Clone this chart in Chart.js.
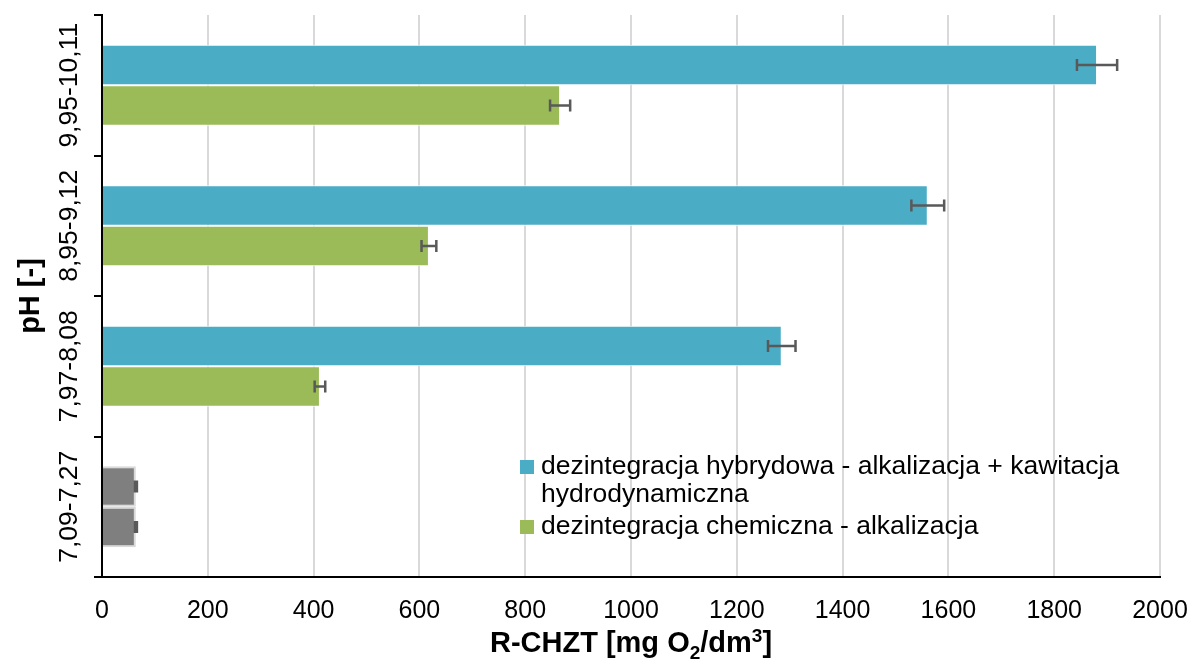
<!DOCTYPE html>
<html>
<head>
<meta charset="utf-8">
<script src="https://cdn.jsdelivr.net/npm/chart.js@4/dist/chart.umd.min.js"></script>
<style>
html,body{margin:0;padding:0;background:#fff;}
#wrap{width:1195px;height:666px;position:relative;}
</style>
</head>
<body>
<div id="wrap"><canvas id="c"></canvas></div>
<script>
// ---- data ----
const categories = ['9,95-10,11', '8,95-9,12', '7,97-8,08', '7,09-7,27'];
const seriesNames = ['dezintegracja hybrydowa - alkalizacja + kawitacja hydrodynamiczna', 'dezintegracja chemiczna - alkalizacja'];
const hybridValues = [1881, 1561, 1285, 64];
const hybridErrors = [38, 31, 26, 2];
const chemicalValues = [866, 618, 412, 64];
const chemicalErrors = [19, 14, 10, 2];
const xTicks = [0, 200, 400, 600, 800, 1000, 1200, 1400, 1600, 1800, 2000];
const xTitleParts = [['R-CHZT [mg O', 0], ['2', -1], ['/dm', 0], ['3', 1], [']', 0]];
const yTitle = 'pH [-]';

// ---- styles ----
const BLUE = '#4bacc6', GREEN = '#9bbb59', GRAY = '#7f7f7f';
const FONT = '"Liberation Sans", Arial, sans-serif';

const errorBarPlugin = {
  id: 'errorBars',
  afterDatasetsDraw(chart) {
    const ctx = chart.ctx, xs = chart.scales.x;
    chart.data.datasets.forEach((ds, di) => {
      const meta = chart.getDatasetMeta(di);
      meta.data.forEach((bar, i) => {
        const v = ds.data[i], e = ds.errors[i];
        const x1 = xs.getPixelForValue(v - e), x2 = xs.getPixelForValue(v + e);
        const y = bar.y;
        ctx.save();
        ctx.strokeStyle = '#595959';
        ctx.lineWidth = 2.5;
        ctx.beginPath();
        ctx.moveTo(x1, y); ctx.lineTo(x2, y);
        ctx.moveTo(x1, y - 6); ctx.lineTo(x1, y + 6);
        ctx.moveTo(x2, y - 6); ctx.lineTo(x2, y + 6);
        ctx.stroke();
        ctx.restore();
      });
    });
  }
};

const customTextPlugin = {
  id: 'customText',
  afterDraw(chart) {
    const ctx = chart.ctx, ys = chart.scales.y, area = chart.chartArea;
    ctx.save();
    // y category labels (rotated)
    ctx.fillStyle = '#000';
    ctx.font = '26.5px ' + FONT;
    ctx.textAlign = 'center';
    ctx.textBaseline = 'middle';
    categories.forEach((c, i) => {
      const y = ys.getPixelForValue(i);
      ctx.save();
      ctx.translate(70, y);
      ctx.rotate(-Math.PI / 2);
      ctx.fillText(c, 0, 0);
      ctx.restore();
    });
    // y title
    ctx.font = 'bold 29px ' + FONT;
    ctx.save();
    ctx.translate(31, (area.top + area.bottom) / 2);
    ctx.rotate(-Math.PI / 2);
    ctx.fillText(yTitle, 0, 0);
    ctx.restore();
    // x title with sub/superscript
    const big = 'bold 29px ' + FONT, small = 'bold 19px ' + FONT;
    let total = 0;
    xTitleParts.forEach(p => { ctx.font = p[1] ? small : big; total += ctx.measureText(p[0]).width; });
    let x = (area.left + area.right) / 2 - total / 2;
    const yb = 652;
    ctx.textAlign = 'left';
    ctx.textBaseline = 'alphabetic';
    xTitleParts.forEach(p => {
      ctx.font = p[1] ? small : big;
      const dy = p[1] === -1 ? 7 : (p[1] === 1 ? -10 : 0);
      ctx.fillText(p[0], x, yb + dy);
      x += ctx.measureText(p[0]).width;
    });
    // legend
    ctx.font = '26.5px ' + FONT;
    ctx.textBaseline = 'middle';
    const colors = [BLUE, GREEN];
    const lx = 520, tx = 541, maxW = 610;
    let ly = 467;
    seriesNames.forEach((name, k) => {
      const words = name.split(' ');
      const lines = [];
      let cur = '';
      words.forEach(w => {
        const t = cur ? cur + ' ' + w : w;
        if (ctx.measureText(t).width > maxW && cur) { lines.push(cur); cur = w; } else cur = t;
      });
      lines.push(cur);
      ctx.fillStyle = colors[k];
      ctx.fillRect(lx, ly - 7, 14, 14);
      ctx.fillStyle = '#000';
      lines.forEach((ln) => {
        ctx.fillText(ln, tx, ly);
        ly += 28;
      });
      ly += 4;
    });
    ctx.restore();
  }
};

const ctx = document.getElementById('c');
new Chart(ctx, {
  type: 'bar',
  data: {
    labels: categories,
    datasets: [
      {
        label: seriesNames[0],
        data: hybridValues,
        errors: hybridErrors,
        backgroundColor: [BLUE, BLUE, BLUE, GRAY],
        borderColor: ['#ffffff', '#ffffff', '#ffffff', '#d9d9d9'],
        borderWidth: [1, 1, 1, 2],
        borderSkipped: 'start',
        categoryPercentage: 0.575,
        barPercentage: 1.0
      },
      {
        label: seriesNames[1],
        data: chemicalValues,
        errors: chemicalErrors,
        backgroundColor: [GREEN, GREEN, GREEN, GRAY],
        borderColor: ['#ffffff', '#ffffff', '#ffffff', '#d9d9d9'],
        borderWidth: [1, 1, 1, 2],
        borderSkipped: 'start',
        categoryPercentage: 0.575,
        barPercentage: 1.0
      }
    ]
  },
  options: {
    indexAxis: 'y',
    responsive: true,
    maintainAspectRatio: false,
    animation: false,
    layout: { padding: { top: 15, right: 35, left: 0, bottom: 0 } },
    plugins: { legend: { display: false }, tooltip: { enabled: false } },
    scales: {
      x: {
        type: 'linear',
        min: xTicks[0],
        max: xTicks[xTicks.length - 1],
        afterBuildTicks(s) { s.ticks = xTicks.map(v => ({ value: v })); },
        afterFit(s) { s.height = 89; s.paddingLeft = 0; s.paddingRight = 0; },
        grid: { color: '#d9d9d9', lineWidth: 2, drawTicks: false },
        border: { display: true, color: '#000', width: 2 },
        ticks: { color: '#000', font: { family: FONT, size: 25 }, padding: 19, callback: v => String(v) }
      },
      y: {
        type: 'category',
        offset: true,
        afterFit(s) { s.width = 102; s.paddingTop = 0; s.paddingBottom = 0; },
        grid: { offset: true, drawOnChartArea: false, drawTicks: true, tickLength: 8, color: '#000', lineWidth: 2 },
        border: { display: true, color: '#000', width: 2 },
        ticks: { display: false }
      }
    }
  },
  plugins: [errorBarPlugin, customTextPlugin]
});
</script>
</body>
</html>
